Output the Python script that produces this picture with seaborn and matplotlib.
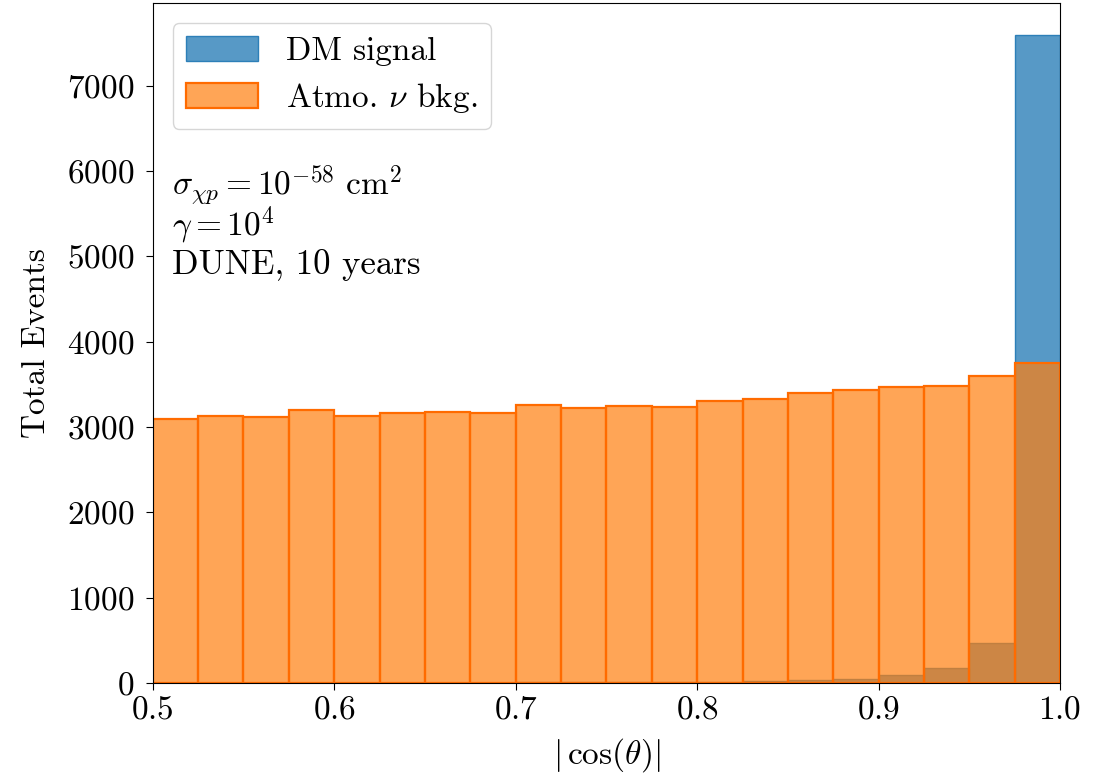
import numpy as np
import matplotlib
matplotlib.use("Agg")
import matplotlib.pyplot as plt
import seaborn as sns

# 20 bins of |cos(theta)| between 0.5 and 1.0
bin_edges = list(np.linspace(0.5, 1.0, 21))
bin_centers = [0.5 * (a + b) for a, b in zip(bin_edges[:-1], bin_edges[1:])]

dm_signal = [3, 3, 4, 4, 5, 5, 6, 6, 7, 8, 9, 11, 14, 20, 35, 50, 90, 180, 465, 7590]
atmo_bkg = [3090, 3125, 3120, 3200, 3130, 3165, 3175, 3165, 3255, 3225,
            3245, 3235, 3310, 3330, 3405, 3430, 3465, 3485, 3595, 3750]

x_ticks = [0.5, 0.6, 0.7, 0.8, 0.9, 1.0]
y_ticks = [0, 1000, 2000, 3000, 4000, 5000, 6000, 7000]

plt.rcParams['font.family'] = 'serif'
plt.rcParams['font.serif'] = ['cmr10', 'DejaVu Serif']
plt.rcParams['mathtext.fontset'] = 'cm'
plt.rcParams['axes.formatter.use_mathtext'] = True
plt.rcParams['xtick.labelsize'] = 24
plt.rcParams['ytick.labelsize'] = 24

fig = plt.figure(figsize=(11.07, 7.78), dpi=100)
ax = fig.add_axes([0.138, 0.122, 0.8196, 0.874])

blue = (31/255, 119/255, 180/255)
orange = (255/255, 127/255, 14/255)

sns.histplot(x=bin_centers, weights=dm_signal, bins=bin_edges, ax=ax,
             facecolor=(*blue, 0.75), edgecolor=(*blue, 0.9), linewidth=1.0,
             label='DM signal')
sns.histplot(x=bin_centers, weights=atmo_bkg, bins=bin_edges, ax=ax,
             facecolor=(*orange, 0.7), edgecolor=(1.0, 0.42, 0.0, 1.0), linewidth=1.6,
             label=r'Atmo. $\nu$ bkg.')

ax.set_xlim(0.5, 1.0)
ax.set_ylim(0, max(dm_signal) * 1.05)
ax.set_xticks(x_ticks)
ax.set_yticks(y_ticks)
ax.tick_params(axis='y', length=5, pad=8)
ax.tick_params(axis='x', length=5, pad=4)
ax.set_xlabel(r'$|\,\cos(\theta)|$', fontsize=24)
ax.set_ylabel('Total Events', fontsize=24)
ax.xaxis.set_label_coords(0.5, -0.078)
ax.yaxis.set_label_coords(-0.112, 0.5)

# annotation block
ax.text(0.021, 0.718, r'$\sigma_{\chi p} = 10^{-58}\ \mathrm{cm}^2$', transform=ax.transAxes,
        fontsize=24, va='baseline')
ax.text(0.021, 0.658, r'$\gamma = 10^4$', transform=ax.transAxes,
        fontsize=24, va='baseline')
ax.text(0.021, 0.601, 'DUNE, 10 years', transform=ax.transAxes,
        fontsize=25, va='baseline')

ax.legend(loc='upper left', fontsize=24, handlelength=2.16, handleheight=0.75,
          handletextpad=0.84, labelspacing=0.45, borderaxespad=0.6)

fig.savefig('out.png', dpi=100)
